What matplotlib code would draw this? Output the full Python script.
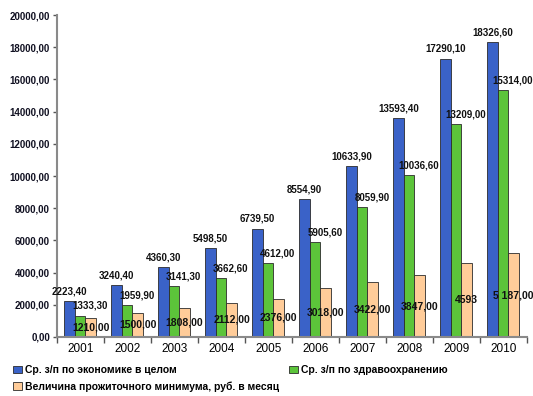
import numpy as np
import matplotlib
matplotlib.use("Agg")
import matplotlib.pyplot as plt
from matplotlib.patches import Patch
from matplotlib.ticker import FuncFormatter

plt.rcParams["font.family"] = ["Liberation Sans", "DejaVu Sans"]

years = ["2001", "2002", "2003", "2004", "2005", "2006", "2007", "2008", "2009", "2010"]
economy = [2223.40, 3240.40, 4360.30, 5498.50, 6739.50, 8554.90, 10633.90, 13593.40, 17290.10, 18326.60]
health = [1333.30, 1959.90, 3141.30, 3662.60, 4612.00, 5905.60, 8059.90, 10036.60, 13209.00, 15314.00]
minimum = [1210.00, 1500.00, 1808.00, 2112.00, 2376.00, 3018.00, 3422.00, 3847.00, 4593.00, 5187.00]
minimum_labels = ["1210,00", "1500,00", "1808,00", "2112,00", "2376,00", "3018,00",
                  "3422,00", "3847,00", "4593", "5 187,00"]
series_names = ["Ср. з/п по экономике в целом",
                "Ср. з/п по здравоохранению",
                "Величина прожиточного минимума, руб. в месяц"]

c_blue, c_green, c_peach = "#3A62C8", "#5CC43A", "#FFCC99"
edge = "#2b2b2b"


def comma(v):
    return f"{v:.2f}".replace(".", ",")


fig = plt.figure(figsize=(5.33, 3.96), dpi=100)
ax = fig.add_axes([0.107, 0.149, 0.882, 0.813])

x = np.arange(len(years))
w = 0.225
ax.bar(x - 0.235, economy, w, color=c_blue, edgecolor=edge, linewidth=0.6)
ax.bar(x - 0.01, health, w, color=c_green, edgecolor=edge, linewidth=0.6)
ax.bar(x + 0.215, minimum, w, color=c_peach, edgecolor=edge, linewidth=0.6)

lab = dict(fontsize=7, fontweight="bold", color="#111111")
for xi, v in zip(x - 0.235, economy):
    ax.annotate(comma(v), (xi, v), xytext=(0, 7), textcoords="offset points",
                ha="center", va="center", **lab)
for xi, v in zip(x - 0.01, health):
    ax.annotate(comma(v), (xi, v), xytext=(7, 7), textcoords="offset points",
                ha="center", va="center", **lab)
for xi, v, s in zip(x + 0.215, minimum, minimum_labels):
    ax.text(xi, v / 2, s, ha="center", va="center", fontsize=7.5, fontweight="bold",
            color="#111111")

ax.set_xlim(-0.5, len(years) - 0.5)
ax.set_ylim(0, 20000)
ax.set_yticks(np.arange(0, 20001, 2000))
ax.yaxis.set_major_formatter(FuncFormatter(lambda v, p: comma(v)))
for t in ax.get_yticklabels():
    t.set_fontweight("bold")
    t.set_fontsize(7)
    t.set_color("#111122")
ax.tick_params(axis="y", length=3, width=1, color="#555555", pad=2)

ax.set_xticks(x)
ax.set_xticklabels(years, fontsize=8.5)
ax.set_xticks(np.arange(-0.5, len(years)), minor=True)
ax.tick_params(axis="x", which="major", length=0, pad=4)
ax.tick_params(axis="x", which="minor", length=4, width=1, color="#555555", direction="out")

for s in ["top", "right"]:
    ax.spines[s].set_visible(False)
for s in ["left", "bottom"]:
    ax.spines[s].set_color("#8a8a8a")
    ax.spines[s].set_linewidth(1.5)

handles = [Patch(facecolor=c_blue, edgecolor=edge, linewidth=0.6),
           Patch(facecolor=c_peach, edgecolor=edge, linewidth=0.6),
           Patch(facecolor=c_green, edgecolor=edge, linewidth=0.6)]
names = [series_names[0], series_names[2], series_names[1]]
fig.legend(handles, names, ncol=2, loc="upper left", bbox_to_anchor=(0.025, 0.078),
           frameon=False, prop={"size": 7.5, "weight": "bold"}, handlelength=0.8,
           handleheight=0.8, handletextpad=0.3, columnspacing=1.0, labelspacing=0.6,
           borderaxespad=0, borderpad=0)

fig.savefig("out.png", dpi=100)
